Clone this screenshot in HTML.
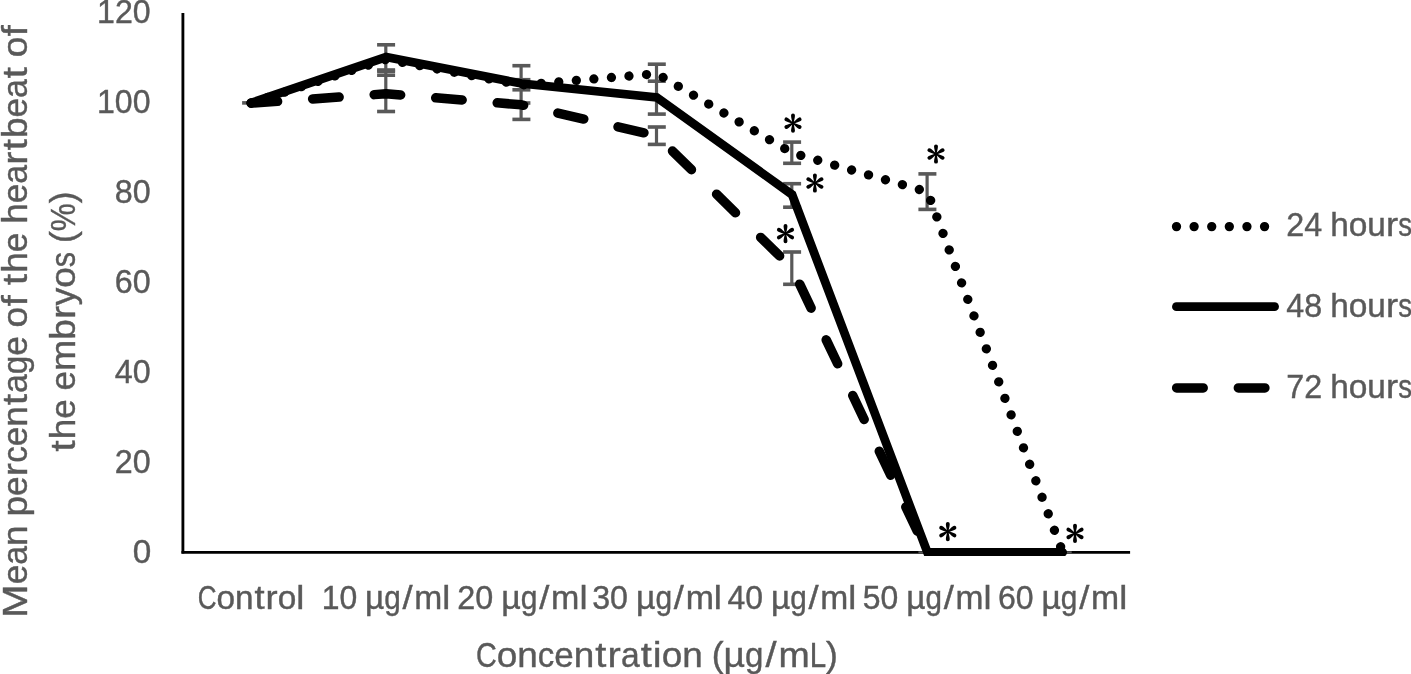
<!DOCTYPE html>
<html><head><meta charset="utf-8"><title>chart</title>
<style>html,body{margin:0;padding:0;background:#fff;overflow:hidden;}svg{display:block;filter:grayscale(1);}text{font-family:"Liberation Sans",sans-serif;fill:#595959;stroke:#595959;stroke-width:0.4px;}</style>
</head><body>
<svg width="1411" height="674" viewBox="0 0 1411 674">
<rect width="1411" height="674" fill="#fff"/>
<line x1="182.9" y1="13.0" x2="182.9" y2="553.5999999999999" stroke="#000" stroke-width="2.85"/>
<line x1="181.48000000000002" y1="552.3" x2="1130.1" y2="552.3" stroke="#000" stroke-width="2.85"/>
<g stroke="#595959" stroke-width="3.6" fill="none">
<line x1="242.1" y1="102.9" x2="260.1" y2="102.9"/>
<line x1="385.8" y1="44.8" x2="385.8" y2="111.5" stroke-width="3.2"/>
<line x1="377.1" y1="44.8" x2="395.1" y2="44.8"/>
<line x1="377.1" y1="70.0" x2="395.1" y2="70.0"/>
<line x1="377.1" y1="71.2" x2="395.1" y2="71.2"/>
<line x1="377.1" y1="75.2" x2="395.1" y2="75.2"/>
<line x1="377.1" y1="111.5" x2="395.1" y2="111.5"/>
<line x1="521.1" y1="65.7" x2="521.1" y2="119.4" stroke-width="3.2"/>
<line x1="512.4" y1="65.7" x2="530.4" y2="65.7"/>
<line x1="512.4" y1="79.7" x2="530.4" y2="79.7"/>
<line x1="512.4" y1="89.8" x2="530.4" y2="89.8"/>
<line x1="512.4" y1="103.0" x2="530.4" y2="103.0"/>
<line x1="512.4" y1="119.4" x2="530.4" y2="119.4"/>
<line x1="656.5" y1="64.2" x2="656.5" y2="114.1" stroke-width="3.2"/>
<line x1="656.5" y1="127.0" x2="656.5" y2="144.4" stroke-width="3.2"/>
<line x1="647.8" y1="64.2" x2="665.8" y2="64.2"/>
<line x1="647.8" y1="81.2" x2="665.8" y2="81.2"/>
<line x1="647.8" y1="114.1" x2="665.8" y2="114.1"/>
<line x1="647.8" y1="127.0" x2="665.8" y2="127.0"/>
<line x1="647.8" y1="144.4" x2="665.8" y2="144.4"/>
<line x1="791.8" y1="142.1" x2="791.8" y2="163.3" stroke-width="3.2"/>
<line x1="791.8" y1="183.7" x2="791.8" y2="207.2" stroke-width="3.2"/>
<line x1="791.8" y1="252.0" x2="791.8" y2="284.3" stroke-width="3.2"/>
<line x1="783.1" y1="142.1" x2="801.1" y2="142.1"/>
<line x1="783.1" y1="163.3" x2="801.1" y2="163.3"/>
<line x1="783.1" y1="183.7" x2="801.1" y2="183.7"/>
<line x1="783.1" y1="207.2" x2="801.1" y2="207.2"/>
<line x1="783.1" y1="252.0" x2="801.1" y2="252.0"/>
<line x1="783.1" y1="284.3" x2="801.1" y2="284.3"/>
<line x1="927.1" y1="173.9" x2="927.1" y2="209.4" stroke-width="3.2"/>
<line x1="918.4" y1="173.9" x2="936.4" y2="173.9"/>
<line x1="918.4" y1="209.4" x2="936.4" y2="209.4"/>
<line x1="918.4" y1="552.3" x2="936.4" y2="552.3" stroke-width="2.0"/>
<line x1="1053.7" y1="552.3" x2="1071.7" y2="552.3" stroke-width="2.0"/>
</g>
<clipPath id="pc"><rect x="0" y="0" width="1411" height="556.05"/></clipPath>
<g fill="none" stroke="#000" stroke-width="8.7" stroke-linecap="round" stroke-linejoin="miter" clip-path="url(#pc)">
<polyline points="251.1,102.9 386.1,59.3 521.4,85.0 656.8,73.7 792.1,152.9 927.4,191.8 1062.7,552.3" stroke-dasharray="0.01 17.605" stroke-linejoin="round" stroke-width="9.3"/>
<polyline points="251.1,102.9 386.1,57.1 521.4,83.5 656.8,97.5 792.1,194.6 927.4,552.3 1062.7,552.3"/>
<polyline points="251.1,103.2 386.1,93.8 521.4,104.8 656.8,135.7 792.1,268.2 927.4,552.3" stroke-dasharray="26.55 35.15" stroke-linejoin="round" stroke-width="9.5"/>
</g>
<g fill="none" stroke="#000" stroke-width="8.7" stroke-linecap="round">
<line x1="1176.5" y1="226.6" x2="1270" y2="226.6" stroke-dasharray="0.01 17.6" stroke-width="9.3"/>
<line x1="1176.4" y1="306.65" x2="1274.6" y2="306.65"/>
<line x1="1176.65" y1="387.9" x2="1270" y2="387.9" stroke-dasharray="26.55 35.15" stroke-width="9.5"/>
</g>
<g transform="translate(793,123.2)" fill="#000"><path transform="rotate(0)" d="M-0.75,0.8 C-0.75,-2.5 -1.95,-5.2 -1.95,-7.6499999999999995 A1.95,1.95 0 0 1 1.95,-7.6499999999999995 C1.95,-5.2 0.75,-2.5 0.75,0.8 Z"/><path transform="rotate(60)" d="M-0.75,0.8 C-0.75,-2.5 -1.95,-5.2 -1.95,-7.6499999999999995 A1.95,1.95 0 0 1 1.95,-7.6499999999999995 C1.95,-5.2 0.75,-2.5 0.75,0.8 Z"/><path transform="rotate(120)" d="M-0.75,0.8 C-0.75,-2.5 -1.95,-5.2 -1.95,-7.6499999999999995 A1.95,1.95 0 0 1 1.95,-7.6499999999999995 C1.95,-5.2 0.75,-2.5 0.75,0.8 Z"/><path transform="rotate(180)" d="M-0.75,0.8 C-0.75,-2.5 -1.95,-5.2 -1.95,-7.6499999999999995 A1.95,1.95 0 0 1 1.95,-7.6499999999999995 C1.95,-5.2 0.75,-2.5 0.75,0.8 Z"/><path transform="rotate(240)" d="M-0.75,0.8 C-0.75,-2.5 -1.95,-5.2 -1.95,-7.6499999999999995 A1.95,1.95 0 0 1 1.95,-7.6499999999999995 C1.95,-5.2 0.75,-2.5 0.75,0.8 Z"/><path transform="rotate(300)" d="M-0.75,0.8 C-0.75,-2.5 -1.95,-5.2 -1.95,-7.6499999999999995 A1.95,1.95 0 0 1 1.95,-7.6499999999999995 C1.95,-5.2 0.75,-2.5 0.75,0.8 Z"/></g>
<g transform="translate(814.9,183)" fill="#000"><path transform="rotate(0)" d="M-0.75,0.8 C-0.75,-2.5 -1.95,-5.2 -1.95,-7.6499999999999995 A1.95,1.95 0 0 1 1.95,-7.6499999999999995 C1.95,-5.2 0.75,-2.5 0.75,0.8 Z"/><path transform="rotate(60)" d="M-0.75,0.8 C-0.75,-2.5 -1.95,-5.2 -1.95,-7.6499999999999995 A1.95,1.95 0 0 1 1.95,-7.6499999999999995 C1.95,-5.2 0.75,-2.5 0.75,0.8 Z"/><path transform="rotate(120)" d="M-0.75,0.8 C-0.75,-2.5 -1.95,-5.2 -1.95,-7.6499999999999995 A1.95,1.95 0 0 1 1.95,-7.6499999999999995 C1.95,-5.2 0.75,-2.5 0.75,0.8 Z"/><path transform="rotate(180)" d="M-0.75,0.8 C-0.75,-2.5 -1.95,-5.2 -1.95,-7.6499999999999995 A1.95,1.95 0 0 1 1.95,-7.6499999999999995 C1.95,-5.2 0.75,-2.5 0.75,0.8 Z"/><path transform="rotate(240)" d="M-0.75,0.8 C-0.75,-2.5 -1.95,-5.2 -1.95,-7.6499999999999995 A1.95,1.95 0 0 1 1.95,-7.6499999999999995 C1.95,-5.2 0.75,-2.5 0.75,0.8 Z"/><path transform="rotate(300)" d="M-0.75,0.8 C-0.75,-2.5 -1.95,-5.2 -1.95,-7.6499999999999995 A1.95,1.95 0 0 1 1.95,-7.6499999999999995 C1.95,-5.2 0.75,-2.5 0.75,0.8 Z"/></g>
<g transform="translate(785.5,233.6)" fill="#000"><path transform="rotate(0)" d="M-0.75,0.8 C-0.75,-2.5 -1.95,-5.2 -1.95,-7.6499999999999995 A1.95,1.95 0 0 1 1.95,-7.6499999999999995 C1.95,-5.2 0.75,-2.5 0.75,0.8 Z"/><path transform="rotate(60)" d="M-0.75,0.8 C-0.75,-2.5 -1.95,-5.2 -1.95,-7.6499999999999995 A1.95,1.95 0 0 1 1.95,-7.6499999999999995 C1.95,-5.2 0.75,-2.5 0.75,0.8 Z"/><path transform="rotate(120)" d="M-0.75,0.8 C-0.75,-2.5 -1.95,-5.2 -1.95,-7.6499999999999995 A1.95,1.95 0 0 1 1.95,-7.6499999999999995 C1.95,-5.2 0.75,-2.5 0.75,0.8 Z"/><path transform="rotate(180)" d="M-0.75,0.8 C-0.75,-2.5 -1.95,-5.2 -1.95,-7.6499999999999995 A1.95,1.95 0 0 1 1.95,-7.6499999999999995 C1.95,-5.2 0.75,-2.5 0.75,0.8 Z"/><path transform="rotate(240)" d="M-0.75,0.8 C-0.75,-2.5 -1.95,-5.2 -1.95,-7.6499999999999995 A1.95,1.95 0 0 1 1.95,-7.6499999999999995 C1.95,-5.2 0.75,-2.5 0.75,0.8 Z"/><path transform="rotate(300)" d="M-0.75,0.8 C-0.75,-2.5 -1.95,-5.2 -1.95,-7.6499999999999995 A1.95,1.95 0 0 1 1.95,-7.6499999999999995 C1.95,-5.2 0.75,-2.5 0.75,0.8 Z"/></g>
<g transform="translate(936,154.0)" fill="#000"><path transform="rotate(0)" d="M-0.75,0.8 C-0.75,-2.5 -1.95,-5.2 -1.95,-7.6499999999999995 A1.95,1.95 0 0 1 1.95,-7.6499999999999995 C1.95,-5.2 0.75,-2.5 0.75,0.8 Z"/><path transform="rotate(60)" d="M-0.75,0.8 C-0.75,-2.5 -1.95,-5.2 -1.95,-7.6499999999999995 A1.95,1.95 0 0 1 1.95,-7.6499999999999995 C1.95,-5.2 0.75,-2.5 0.75,0.8 Z"/><path transform="rotate(120)" d="M-0.75,0.8 C-0.75,-2.5 -1.95,-5.2 -1.95,-7.6499999999999995 A1.95,1.95 0 0 1 1.95,-7.6499999999999995 C1.95,-5.2 0.75,-2.5 0.75,0.8 Z"/><path transform="rotate(180)" d="M-0.75,0.8 C-0.75,-2.5 -1.95,-5.2 -1.95,-7.6499999999999995 A1.95,1.95 0 0 1 1.95,-7.6499999999999995 C1.95,-5.2 0.75,-2.5 0.75,0.8 Z"/><path transform="rotate(240)" d="M-0.75,0.8 C-0.75,-2.5 -1.95,-5.2 -1.95,-7.6499999999999995 A1.95,1.95 0 0 1 1.95,-7.6499999999999995 C1.95,-5.2 0.75,-2.5 0.75,0.8 Z"/><path transform="rotate(300)" d="M-0.75,0.8 C-0.75,-2.5 -1.95,-5.2 -1.95,-7.6499999999999995 A1.95,1.95 0 0 1 1.95,-7.6499999999999995 C1.95,-5.2 0.75,-2.5 0.75,0.8 Z"/></g>
<g transform="translate(947.8,531.6)" fill="#000"><path transform="rotate(0)" d="M-0.75,0.8 C-0.75,-2.5 -1.95,-5.2 -1.95,-7.6499999999999995 A1.95,1.95 0 0 1 1.95,-7.6499999999999995 C1.95,-5.2 0.75,-2.5 0.75,0.8 Z"/><path transform="rotate(60)" d="M-0.75,0.8 C-0.75,-2.5 -1.95,-5.2 -1.95,-7.6499999999999995 A1.95,1.95 0 0 1 1.95,-7.6499999999999995 C1.95,-5.2 0.75,-2.5 0.75,0.8 Z"/><path transform="rotate(120)" d="M-0.75,0.8 C-0.75,-2.5 -1.95,-5.2 -1.95,-7.6499999999999995 A1.95,1.95 0 0 1 1.95,-7.6499999999999995 C1.95,-5.2 0.75,-2.5 0.75,0.8 Z"/><path transform="rotate(180)" d="M-0.75,0.8 C-0.75,-2.5 -1.95,-5.2 -1.95,-7.6499999999999995 A1.95,1.95 0 0 1 1.95,-7.6499999999999995 C1.95,-5.2 0.75,-2.5 0.75,0.8 Z"/><path transform="rotate(240)" d="M-0.75,0.8 C-0.75,-2.5 -1.95,-5.2 -1.95,-7.6499999999999995 A1.95,1.95 0 0 1 1.95,-7.6499999999999995 C1.95,-5.2 0.75,-2.5 0.75,0.8 Z"/><path transform="rotate(300)" d="M-0.75,0.8 C-0.75,-2.5 -1.95,-5.2 -1.95,-7.6499999999999995 A1.95,1.95 0 0 1 1.95,-7.6499999999999995 C1.95,-5.2 0.75,-2.5 0.75,0.8 Z"/></g>
<g transform="translate(1075,533.4)" fill="#000"><path transform="rotate(0)" d="M-0.75,0.8 C-0.75,-2.5 -1.95,-5.2 -1.95,-7.6499999999999995 A1.95,1.95 0 0 1 1.95,-7.6499999999999995 C1.95,-5.2 0.75,-2.5 0.75,0.8 Z"/><path transform="rotate(60)" d="M-0.75,0.8 C-0.75,-2.5 -1.95,-5.2 -1.95,-7.6499999999999995 A1.95,1.95 0 0 1 1.95,-7.6499999999999995 C1.95,-5.2 0.75,-2.5 0.75,0.8 Z"/><path transform="rotate(120)" d="M-0.75,0.8 C-0.75,-2.5 -1.95,-5.2 -1.95,-7.6499999999999995 A1.95,1.95 0 0 1 1.95,-7.6499999999999995 C1.95,-5.2 0.75,-2.5 0.75,0.8 Z"/><path transform="rotate(180)" d="M-0.75,0.8 C-0.75,-2.5 -1.95,-5.2 -1.95,-7.6499999999999995 A1.95,1.95 0 0 1 1.95,-7.6499999999999995 C1.95,-5.2 0.75,-2.5 0.75,0.8 Z"/><path transform="rotate(240)" d="M-0.75,0.8 C-0.75,-2.5 -1.95,-5.2 -1.95,-7.6499999999999995 A1.95,1.95 0 0 1 1.95,-7.6499999999999995 C1.95,-5.2 0.75,-2.5 0.75,0.8 Z"/><path transform="rotate(300)" d="M-0.75,0.8 C-0.75,-2.5 -1.95,-5.2 -1.95,-7.6499999999999995 A1.95,1.95 0 0 1 1.95,-7.6499999999999995 C1.95,-5.2 0.75,-2.5 0.75,0.8 Z"/></g>
<g id="xl0"><text transform="translate(197.71,608.6) scale(0.8012,1)" font-size="32.5">C</text><text transform="translate(216.51,608.6) scale(1.0286,1)" font-size="32.5">o</text><text transform="translate(235.10,608.6) scale(1.0247,1)" font-size="32.5">n</text><text transform="translate(254.48,608.6) scale(1.1200,1)" font-size="32.5">t</text><text transform="translate(265.54,608.6) scale(1.1200,1)" font-size="32.5">r</text><text transform="translate(277.76,608.6) scale(1.0286,1)" font-size="32.5">o</text><text transform="translate(296.35,608.6) scale(1.1189,1)" font-size="32.5">l</text></g>
<g id="xl1"><text transform="translate(321.63,608.6) scale(0.9825,1)" font-size="32.5">1</text><text transform="translate(339.39,608.6) scale(0.9825,1)" font-size="32.5">0</text><text transform="translate(365.06,608.6) scale(1.0288,1)" font-size="32.5">&#181;</text><text transform="translate(384.33,608.6) scale(0.9128,1)" font-size="32.5">g</text><text transform="translate(402.53,608.6) scale(1.1200,1)" font-size="32.5">/</text><text transform="translate(414.35,608.6) scale(1.0338,1)" font-size="32.5">m</text><text transform="translate(442.33,608.6) scale(1.1109,1)" font-size="32.5">l</text></g>
<g id="xl2"><text transform="translate(457.16,608.6) scale(0.9947,1)" font-size="32.5">2</text><text transform="translate(475.14,608.6) scale(0.9947,1)" font-size="32.5">0</text><text transform="translate(501.13,608.6) scale(1.0416,1)" font-size="32.5">&#181;</text><text transform="translate(520.64,608.6) scale(0.9241,1)" font-size="32.5">g</text><text transform="translate(539.13,608.6) scale(1.1200,1)" font-size="32.5">/</text><text transform="translate(551.03,608.6) scale(1.0466,1)" font-size="32.5">m</text><text transform="translate(579.38,608.6) scale(1.1200,1)" font-size="32.5">l</text></g>
<g id="xl3"><text transform="translate(592.16,608.6) scale(0.9907,1)" font-size="32.5">3</text><text transform="translate(610.07,608.6) scale(0.9907,1)" font-size="32.5">0</text><text transform="translate(635.96,608.6) scale(1.0374,1)" font-size="32.5">&#181;</text><text transform="translate(655.38,608.6) scale(0.9204,1)" font-size="32.5">g</text><text transform="translate(673.78,608.6) scale(1.1200,1)" font-size="32.5">/</text><text transform="translate(685.65,608.6) scale(1.0424,1)" font-size="32.5">m</text><text transform="translate(713.87,608.6) scale(1.1200,1)" font-size="32.5">l</text></g>
<g id="xl4"><text transform="translate(727.56,608.6) scale(0.9826,1)" font-size="32.5">4</text><text transform="translate(745.32,608.6) scale(0.9826,1)" font-size="32.5">0</text><text transform="translate(770.99,608.6) scale(1.0289,1)" font-size="32.5">&#181;</text><text transform="translate(790.26,608.6) scale(0.9128,1)" font-size="32.5">g</text><text transform="translate(808.46,608.6) scale(1.1200,1)" font-size="32.5">/</text><text transform="translate(820.28,608.6) scale(1.0338,1)" font-size="32.5">m</text><text transform="translate(848.27,608.6) scale(1.1110,1)" font-size="32.5">l</text></g>
<g id="xl5"><text transform="translate(862.82,608.6) scale(0.9817,1)" font-size="32.5">5</text><text transform="translate(880.56,608.6) scale(0.9817,1)" font-size="32.5">0</text><text transform="translate(906.21,608.6) scale(1.0280,1)" font-size="32.5">&#181;</text><text transform="translate(925.46,608.6) scale(0.9120,1)" font-size="32.5">g</text><text transform="translate(943.65,608.6) scale(1.1200,1)" font-size="32.5">/</text><text transform="translate(955.46,608.6) scale(1.0329,1)" font-size="32.5">m</text><text transform="translate(983.42,608.6) scale(1.1100,1)" font-size="32.5">l</text></g>
<g id="xl6"><text transform="translate(997.90,608.6) scale(0.9868,1)" font-size="32.5">6</text><text transform="translate(1015.73,608.6) scale(0.9868,1)" font-size="32.5">0</text><text transform="translate(1041.52,608.6) scale(1.0333,1)" font-size="32.5">&#181;</text><text transform="translate(1060.87,608.6) scale(0.9167,1)" font-size="32.5">g</text><text transform="translate(1079.17,608.6) scale(1.1200,1)" font-size="32.5">/</text><text transform="translate(1091.02,608.6) scale(1.0383,1)" font-size="32.5">m</text><text transform="translate(1119.13,608.6) scale(1.1158,1)" font-size="32.5">l</text></g>
<g id="yt120"><text transform="translate(97.05,23.3) scale(0.9879,1)" font-size="32.5">1</text><text transform="translate(114.91,23.3) scale(0.9879,1)" font-size="32.5">2</text><text transform="translate(132.76,23.3) scale(0.9879,1)" font-size="32.5">0</text></g>
<g id="yt100"><text transform="translate(97.00,113.4) scale(0.9875,1)" font-size="32.5">1</text><text transform="translate(114.85,113.4) scale(0.9875,1)" font-size="32.5">0</text><text transform="translate(132.70,113.4) scale(0.9875,1)" font-size="32.5">0</text></g>
<g id="yt80"><text transform="translate(114.86,203.2) scale(0.9916,1)" font-size="32.5">8</text><text transform="translate(132.78,203.2) scale(0.9916,1)" font-size="32.5">0</text></g>
<g id="yt60"><text transform="translate(114.86,293.1) scale(0.9916,1)" font-size="32.5">6</text><text transform="translate(132.78,293.1) scale(0.9916,1)" font-size="32.5">0</text></g>
<g id="yt40"><text transform="translate(114.86,382.9) scale(0.9916,1)" font-size="32.5">4</text><text transform="translate(132.78,382.9) scale(0.9916,1)" font-size="32.5">0</text></g>
<g id="yt20"><text transform="translate(114.86,472.8) scale(0.9916,1)" font-size="32.5">2</text><text transform="translate(132.78,472.8) scale(0.9916,1)" font-size="32.5">0</text></g>
<g id="yt0"><text transform="translate(132.73,562.6) scale(1.0229,1)" font-size="32.5">0</text></g>
<g id="xt"><text transform="translate(475.91,667.2) scale(0.8098,1)" font-size="35.6">C</text><text transform="translate(496.73,667.2) scale(1.0398,1)" font-size="35.6">o</text><text transform="translate(517.32,667.2) scale(1.0358,1)" font-size="35.6">n</text><text transform="translate(537.82,667.2) scale(0.9283,1)" font-size="35.6">c</text><text transform="translate(554.35,667.2) scale(0.9825,1)" font-size="35.6">e</text><text transform="translate(573.80,667.2) scale(1.0358,1)" font-size="35.6">n</text><text transform="translate(595.31,667.2) scale(1.1200,1)" font-size="35.6">t</text><text transform="translate(607.57,667.2) scale(1.1200,1)" font-size="35.6">r</text><text transform="translate(621.03,667.2) scale(0.9451,1)" font-size="35.6">a</text><text transform="translate(640.74,667.2) scale(1.1200,1)" font-size="35.6">t</text><text transform="translate(652.87,667.2) scale(1.1200,1)" font-size="35.6">i</text><text transform="translate(661.77,667.2) scale(1.0398,1)" font-size="35.6">o</text><text transform="translate(682.36,667.2) scale(1.0358,1)" font-size="35.6">n</text><text transform="translate(711.69,667.2) scale(0.9984,1)" font-size="35.6">(</text><text transform="translate(723.53,667.2) scale(1.0474,1)" font-size="35.6">&#181;</text><text transform="translate(745.01,667.2) scale(0.9293,1)" font-size="35.6">g</text><text transform="translate(765.41,667.2) scale(1.1200,1)" font-size="35.6">/</text><text transform="translate(778.49,667.2) scale(1.0525,1)" font-size="35.6">m</text><text transform="translate(809.70,667.2) scale(0.8286,1)" font-size="35.6">L</text><text transform="translate(826.11,667.2) scale(0.9984,1)" font-size="35.6">)</text></g>
<g id="yl1"><text transform="translate(27.0,617.72) rotate(-90) scale(1.1200,1)" font-size="35.6">M</text><text transform="translate(27.0,584.35) rotate(-90) scale(0.9860,1)" font-size="35.6">e</text><text transform="translate(27.0,564.83) rotate(-90) scale(0.9484,1)" font-size="35.6">a</text><text transform="translate(27.0,546.05) rotate(-90) scale(1.0395,1)" font-size="35.6">n</text><text transform="translate(27.0,516.61) rotate(-90) scale(1.0395,1)" font-size="35.6">p</text><text transform="translate(27.0,496.03) rotate(-90) scale(0.9860,1)" font-size="35.6">e</text><text transform="translate(27.0,476.31) rotate(-90) scale(1.1200,1)" font-size="35.6">r</text><text transform="translate(27.0,462.83) rotate(-90) scale(0.9316,1)" font-size="35.6">c</text><text transform="translate(27.0,446.25) rotate(-90) scale(0.9860,1)" font-size="35.6">e</text><text transform="translate(27.0,426.72) rotate(-90) scale(1.0395,1)" font-size="35.6">n</text><text transform="translate(27.0,405.11) rotate(-90) scale(1.1200,1)" font-size="35.6">t</text><text transform="translate(27.0,393.01) rotate(-90) scale(0.9484,1)" font-size="35.6">a</text><text transform="translate(27.0,374.23) rotate(-90) scale(0.9326,1)" font-size="35.6">g</text><text transform="translate(27.0,355.77) rotate(-90) scale(0.9860,1)" font-size="35.6">e</text><text transform="translate(27.0,327.38) rotate(-90) scale(1.0435,1)" font-size="35.6">o</text><text transform="translate(27.0,306.29) rotate(-90) scale(1.1200,1)" font-size="35.6">f</text><text transform="translate(27.0,284.88) rotate(-90) scale(1.1200,1)" font-size="35.6">t</text><text transform="translate(27.0,272.78) rotate(-90) scale(1.0395,1)" font-size="35.6">h</text><text transform="translate(27.0,252.20) rotate(-90) scale(0.9860,1)" font-size="35.6">e</text><text transform="translate(27.0,223.81) rotate(-90) scale(1.0395,1)" font-size="35.6">h</text><text transform="translate(27.0,203.23) rotate(-90) scale(0.9860,1)" font-size="35.6">e</text><text transform="translate(27.0,183.71) rotate(-90) scale(0.9484,1)" font-size="35.6">a</text><text transform="translate(27.0,164.73) rotate(-90) scale(1.1200,1)" font-size="35.6">r</text><text transform="translate(27.0,150.22) rotate(-90) scale(1.1200,1)" font-size="35.6">t</text><text transform="translate(27.0,138.12) rotate(-90) scale(1.0395,1)" font-size="35.6">b</text><text transform="translate(27.0,117.54) rotate(-90) scale(0.9860,1)" font-size="35.6">e</text><text transform="translate(27.0,98.01) rotate(-90) scale(0.9484,1)" font-size="35.6">a</text><text transform="translate(27.0,78.21) rotate(-90) scale(1.1200,1)" font-size="35.6">t</text><text transform="translate(27.0,57.24) rotate(-90) scale(1.0435,1)" font-size="35.6">o</text><text transform="translate(27.0,36.14) rotate(-90) scale(1.1200,1)" font-size="35.6">f</text></g>
<g id="yl2"><text transform="translate(75.0,451.44) rotate(-90) scale(1.1200,1)" font-size="35.6">t</text><text transform="translate(75.0,439.35) rotate(-90) scale(1.0374,1)" font-size="35.6">h</text><text transform="translate(75.0,418.81) rotate(-90) scale(0.9841,1)" font-size="35.6">e</text><text transform="translate(75.0,390.48) rotate(-90) scale(0.9841,1)" font-size="35.6">e</text><text transform="translate(75.0,371.00) rotate(-90) scale(1.0541,1)" font-size="35.6">m</text><text transform="translate(75.0,339.74) rotate(-90) scale(1.0374,1)" font-size="35.6">b</text><text transform="translate(75.0,319.01) rotate(-90) scale(1.1200,1)" font-size="35.6">r</text><text transform="translate(75.0,305.55) rotate(-90) scale(0.9957,1)" font-size="35.6">y</text><text transform="translate(75.0,287.82) rotate(-90) scale(1.0414,1)" font-size="35.6">o</text><text transform="translate(75.0,267.20) rotate(-90) scale(0.8594,1)" font-size="35.6">s</text><text transform="translate(75.0,243.06) rotate(-90) scale(1.0000,1)" font-size="35.6">(</text><text transform="translate(75.0,231.21) rotate(-90) scale(0.8837,1)" font-size="35.6">%</text><text transform="translate(75.0,203.23) rotate(-90) scale(1.0000,1)" font-size="35.6">)</text></g>
<g id="lg0"><text transform="translate(1286.30,235.9) scale(0.9916,1)" font-size="32.5">2</text><text transform="translate(1304.22,235.9) scale(0.9916,1)" font-size="32.5">4</text><text transform="translate(1330.13,235.9) scale(1.0268,1)" font-size="32.5">h</text><text transform="translate(1348.69,235.9) scale(1.0307,1)" font-size="32.5">o</text><text transform="translate(1367.32,235.9) scale(1.0268,1)" font-size="32.5">u</text><text transform="translate(1385.99,235.9) scale(1.1200,1)" font-size="32.5">r</text><text transform="translate(1398.22,235.9) scale(0.8506,1)" font-size="32.5">s</text></g>
<g id="lg1"><text transform="translate(1286.30,316.8) scale(0.9916,1)" font-size="32.5">4</text><text transform="translate(1304.22,316.8) scale(0.9916,1)" font-size="32.5">8</text><text transform="translate(1330.13,316.8) scale(1.0268,1)" font-size="32.5">h</text><text transform="translate(1348.69,316.8) scale(1.0307,1)" font-size="32.5">o</text><text transform="translate(1367.32,316.8) scale(1.0268,1)" font-size="32.5">u</text><text transform="translate(1385.99,316.8) scale(1.1200,1)" font-size="32.5">r</text><text transform="translate(1398.22,316.8) scale(0.8506,1)" font-size="32.5">s</text></g>
<g id="lg2"><text transform="translate(1286.30,397.6) scale(0.9916,1)" font-size="32.5">7</text><text transform="translate(1304.22,397.6) scale(0.9916,1)" font-size="32.5">2</text><text transform="translate(1330.13,397.6) scale(1.0268,1)" font-size="32.5">h</text><text transform="translate(1348.69,397.6) scale(1.0307,1)" font-size="32.5">o</text><text transform="translate(1367.32,397.6) scale(1.0268,1)" font-size="32.5">u</text><text transform="translate(1385.99,397.6) scale(1.1200,1)" font-size="32.5">r</text><text transform="translate(1398.22,397.6) scale(0.8506,1)" font-size="32.5">s</text></g>
</svg></body></html>
